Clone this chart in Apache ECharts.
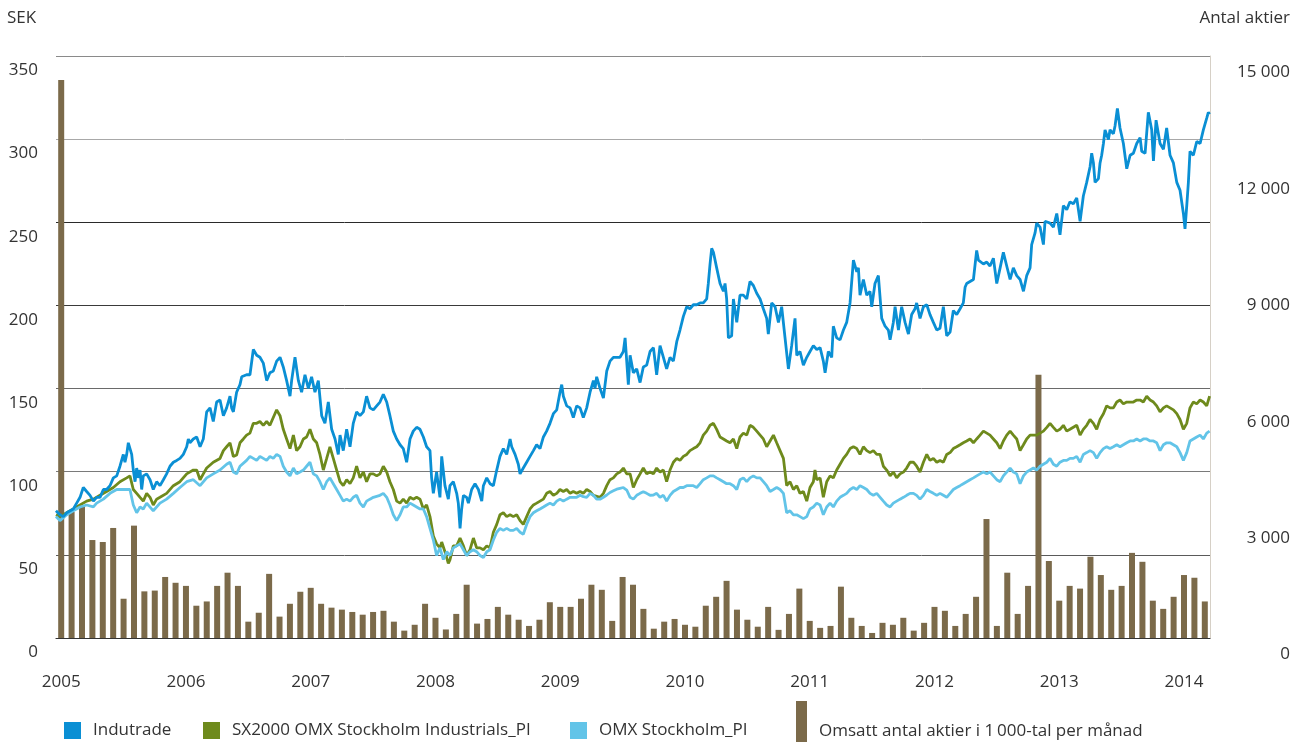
<!DOCTYPE html>
<html>
<head>
<meta charset="utf-8">
<script src="https://cdn.jsdelivr.net/npm/echarts@6/dist/echarts.min.js"></script>
<style>
html,body{margin:0;padding:0;background:#fff;}
#chart{width:1296px;height:742px;}
</style>
</head>
<body>
<div id="chart"></div>
<script>
// Monthly traded volume (thousands of shares), Jan 2005 .. Mar 2014
const volume = [
14380,3250,3400,2525,2475,2836,1012,2896,1202,1222,1573,1423,
1343,832,942,1343,1683,1343,421,651,1653,551,882,1192,
1293,882,782,731,671,601,671,701,421,190,341,882,
521,220,621,1373,371,491,802,601,471,311,471,922,
802,802,1012,1373,1242,441,1573,1373,751,240,421,491,
341,291,832,1062,1473,731,471,291,802,210,621,1273,
441,261,311,1323,521,311,130,391,341,521,190,391,
802,701,311,621,1062,3066,311,1683,621,1343,6783,1984,
962,1343,1273,2094,1623,1242,1343,2194,1964,962,751,1062,
1623,1553,942
];
const startYear = 2005;
const leftTicks = [0,50,100,150,200,250,300,350];
const rightTicks = [0,3000,6000,9000,12000,15000];

// Daily closing series: [decimal year, SEK]
const indutrade = [
[2004.958,76.5],[2004.990,74.1],[2005.017,73.0],[2005.044,75.3],[2005.097,77.6],[2005.124,81.1],[2005.151,84.6],[2005.177,90.5],[2005.191,90.5],[2005.204,88.1],[2005.231,85.8],[2005.258,82.3],[2005.284,84.6],[2005.311,84.6],[2005.338,89.3],[2005.364,89.3],[2005.391,91.6],[2005.418,96.3],[2005.445,97.5],[2005.471,103.3],[2005.498,110.4],[2005.511,105.7],[2005.525,110.4],[2005.538,117.4],[2005.551,118.5],[2005.565,110.4],[2005.578,101.0],[2005.592,94.0],[2005.605,102.2],[2005.618,96.3],[2005.632,101.0],[2005.645,89.3],[2005.658,97.5],[2005.685,98.7],[2005.712,95.2],[2005.738,89.3],[2005.765,94.0],[2005.792,91.6],[2005.819,95.2],[2005.845,98.7],[2005.872,103.3],[2005.899,105.7],[2005.926,106.8],[2005.952,108.0],[2005.979,110.4],[2006.006,115.0],[2006.019,119.7],[2006.032,117.4],[2006.059,119.7],[2006.086,120.9],[2006.113,115.0],[2006.139,119.7],[2006.166,136.0],[2006.193,138.4],[2006.219,130.2],[2006.246,141.9],[2006.273,143.1],[2006.300,133.7],[2006.326,138.4],[2006.353,145.4],[2006.366,138.4],[2006.380,136.0],[2006.406,147.8],[2006.433,152.4],[2006.447,157.1],[2006.460,156.0],[2006.486,158.3],[2006.513,158.3],
[2006.540,173.5],[2006.553,174.6],[2006.567,170.0],[2006.593,168.8],[2006.620,165.3],[2006.647,154.8],[2006.673,159.5],[2006.700,160.6],[2006.727,166.5],[2006.754,168.8],[2006.780,163.0],[2006.807,154.8],[2006.834,145.4],[2006.847,154.8],[2006.874,168.8],[2006.901,154.8],[2006.927,147.8],[2006.954,158.3],[2006.981,150.1],[2007.007,157.1],[2007.034,147.8],[2007.061,154.8],[2007.088,133.7],[2007.114,129.1],[2007.141,141.9],[2007.168,125.5],[2007.195,119.7],[2007.221,110.4],[2007.235,122.0],[2007.261,112.7],[2007.288,125.5],[2007.315,115.0],[2007.341,129.1],[2007.368,136.0],[2007.395,133.7],[2007.422,136.0],[2007.448,145.4],[2007.475,138.4],[2007.502,137.2],[2007.529,139.6],[2007.555,141.9],[2007.582,146.6],[2007.609,141.9],[2007.635,133.7],[2007.662,124.4],[2007.689,119.7],[2007.716,116.2],[2007.742,113.9],[2007.769,105.7],[2007.796,119.7],[2007.822,124.4],[2007.849,126.7],[2007.876,125.5],[2007.903,120.9],[2007.929,115.0],[2007.956,112.7],[2007.969,96.3],[2007.983,87.0],[2008.009,99.8],[2008.036,84.6],[2008.050,109.2],[2008.076,91.6],[2008.103,83.5],[2008.116,91.6],
[2008.143,94.0],[2008.170,87.0],[2008.183,81.1],[2008.197,65.9],[2008.210,77.6],[2008.224,85.8],[2008.250,84.6],[2008.264,81.1],[2008.290,89.3],[2008.317,92.8],[2008.344,89.3],[2008.371,82.3],[2008.384,91.6],[2008.411,96.3],[2008.437,92.8],[2008.464,91.6],[2008.491,101.0],[2008.517,109.2],[2008.544,113.9],[2008.571,110.4],[2008.598,119.7],[2008.611,115.0],[2008.638,110.4],[2008.664,104.5],[2008.678,98.7],[2008.704,102.2],[2008.731,105.7],[2008.758,109.2],[2008.785,112.7],[2008.811,116.2],[2008.838,113.9],[2008.865,120.9],[2008.891,124.4],[2008.918,129.1],[2008.945,134.9],[2008.972,137.2],[2008.998,147.8],[2009.012,152.4],[2009.025,145.4],[2009.052,139.6],[2009.079,138.4],[2009.105,132.6],[2009.132,139.6],[2009.159,138.4],[2009.185,132.6],[2009.212,138.4],[2009.239,147.8],[2009.266,154.8],[2009.279,150.1],[2009.292,157.1],[2009.319,150.1],[2009.346,144.3],[2009.373,160.6],[2009.399,166.5],[2009.426,168.8],[2009.453,168.8],[2009.479,168.8],[2009.506,172.3],[2009.520,180.5],[2009.533,179.3],[2009.546,152.4],[2009.560,170.0],[2009.586,159.5],[2009.613,161.8],[2009.640,153.6],[2009.666,163.0],[2009.693,164.1],[2009.720,172.3],
[2009.747,174.6],[2009.773,158.3],[2009.800,175.8],[2009.827,168.8],[2009.853,161.8],[2009.880,168.8],[2009.907,166.5],[2009.934,178.2],[2009.960,185.2],[2009.987,193.4],[2010.014,199.2],[2010.040,198.0],[2010.067,200.4],[2010.094,200.4],[2010.121,201.5],[2010.147,201.5],[2010.174,203.9],[2010.187,213.2],[2010.201,225.0],[2010.214,234.3],[2010.228,232.0],[2010.254,222.6],[2010.281,213.2],[2010.308,208.5],[2010.321,213.2],[2010.334,203.9],[2010.348,180.5],[2010.374,181.7],[2010.388,203.9],[2010.415,189.8],[2010.441,206.2],[2010.468,206.2],[2010.495,203.9],[2010.521,214.4],[2010.548,212.0],[2010.575,207.3],[2010.602,203.9],[2010.628,198.0],[2010.655,192.2],[2010.668,182.8],[2010.695,201.5],[2010.722,199.2],[2010.749,189.8],[2010.775,199.2],[2010.802,180.5],[2010.829,161.8],[2010.855,175.8],[2010.882,192.2],[2010.896,170.0],[2010.922,172.3],[2010.949,164.1],[2010.976,168.8],[2011.002,172.3],[2011.029,175.8],[2011.056,173.5],[2011.083,174.6],[2011.109,166.5],[2011.123,159.5],[2011.149,172.3],[2011.176,168.8],[2011.189,187.5],[2011.216,180.5],[2011.243,179.3],[2011.270,185.2],[2011.296,189.8],[2011.323,201.5],
[2011.350,227.3],[2011.363,226.1],[2011.377,220.2],[2011.390,222.6],[2011.403,206.2],[2011.430,215.6],[2011.457,206.2],[2011.483,208.5],[2011.497,199.2],[2011.523,213.2],[2011.550,217.9],[2011.564,219.1],[2011.577,192.2],[2011.604,187.5],[2011.630,185.2],[2011.644,179.3],[2011.670,189.8],[2011.684,199.2],[2011.711,185.2],[2011.737,199.2],[2011.764,189.8],[2011.791,182.8],[2011.817,194.5],[2011.844,198.0],[2011.857,201.5],[2011.884,192.2],[2011.911,199.2],[2011.938,200.4],[2011.964,194.5],[2011.991,189.8],[2012.018,185.2],[2012.044,186.3],[2012.071,199.2],[2012.098,181.7],[2012.125,184.0],[2012.151,196.9],[2012.178,194.5],[2012.205,198.0],[2012.231,201.5],[2012.245,210.9],[2012.258,213.2],[2012.285,214.4],[2012.312,215.6],[2012.338,233.1],[2012.352,227.3],[2012.365,227.3],[2012.392,224.9],[2012.419,226.1],[2012.445,223.7],[2012.472,228.4],[2012.499,213.2],[2012.526,222.6],[2012.552,231.9],[2012.579,223.7],[2012.606,215.6],[2012.632,222.6],[2012.659,217.9],[2012.686,215.6],[2012.713,208.5],[2012.739,217.9],[2012.766,222.6],[2012.779,236.6],[2012.806,243.6],[2012.819,249.5],[2012.846,247.1],[2012.873,236.6],[2012.886,250.6],[2012.900,251.8],[2012.926,249.5],
[2012.953,247.1],[2012.980,255.3],[2013.006,242.5],[2013.033,260.0],[2013.060,257.6],[2013.086,262.3],[2013.113,261.1],[2013.140,264.6],[2013.167,250.6],[2013.193,265.8],[2013.220,274.0],[2013.247,283.4],[2013.260,291.5],[2013.274,285.6],[2013.287,274.0],[2013.314,276.3],[2013.327,285.7],[2013.340,290.3],[2013.354,297.4],[2013.367,305.6],[2013.394,299.7],[2013.407,305.6],[2013.434,303.2],[2013.447,307.9],[2013.466,318.4],[2013.487,306.7],[2013.514,297.4],[2013.541,282.2],[2013.568,290.3],[2013.594,291.5],[2013.621,297.4],[2013.648,300.9],[2013.661,292.7],[2013.688,291.5],[2013.714,316.1],[2013.741,305.6],[2013.755,286.9],[2013.776,311.4],[2013.808,297.4],[2013.835,293.9],[2013.861,306.7],[2013.888,290.3],[2013.915,285.7],[2013.942,274.0],[2013.968,269.3],[2013.995,255.3],[2014.008,246.0],[2014.022,260.0],[2014.035,274.0],[2014.048,292.7],[2014.075,290.3],[2014.102,298.6],[2014.129,297.4],[2014.155,305.6],[2014.169,305.6],[2014.182,312.6],[2014.195,316.1],[2014.205,315.0]
];

const sx2000 = [
[2004.958,74.1],[2004.990,73.0],[2005.044,75.3],[2005.097,77.6],[2005.151,80.0],[2005.204,82.3],[2005.258,83.5],[2005.311,85.8],[2005.364,88.1],[2005.418,90.5],[2005.471,94.0],[2005.525,96.3],[2005.551,97.5],[2005.578,89.3],[2005.605,87.0],[2005.632,84.6],[2005.658,82.3],[2005.685,87.0],[2005.712,84.6],[2005.738,80.0],[2005.765,83.5],[2005.792,84.6],[2005.845,87.0],[2005.899,91.6],[2005.952,94.0],[2006.006,98.7],[2006.059,101.0],[2006.086,101.0],[2006.113,95.2],[2006.139,98.7],[2006.166,102.2],[2006.219,105.7],[2006.273,108.0],[2006.300,112.7],[2006.326,115.0],[2006.353,117.4],[2006.380,109.1],[2006.406,110.0],[2006.433,117.4],[2006.460,119.7],[2006.486,122.0],[2006.513,123.2],
[2006.540,129.1],[2006.567,129.1],[2006.593,130.2],[2006.620,127.9],[2006.647,130.2],[2006.673,127.9],[2006.700,132.6],[2006.727,137.2],[2006.740,138.4],[2006.754,133.7],[2006.780,125.5],[2006.807,119.7],[2006.834,113.9],[2006.861,122.0],[2006.887,112.7],[2006.914,115.0],[2006.941,119.7],[2006.967,120.9],[2006.994,125.5],[2007.021,119.7],[2007.048,117.4],[2007.074,110.4],[2007.101,101.0],[2007.128,108.0],[2007.154,115.0],[2007.181,108.0],[2007.208,101.0],[2007.235,94.0],[2007.261,91.6],[2007.288,95.2],[2007.315,92.8],[2007.341,96.3],[2007.368,103.3],[2007.395,96.3],[2007.422,99.8],[2007.448,94.0],[2007.475,98.7],[2007.502,98.7],[2007.529,97.5],[2007.555,98.7],[2007.582,103.3],[2007.609,99.8],[2007.635,94.0],[2007.662,89.3],[2007.689,82.3],[2007.716,81.1],[2007.742,83.5],[2007.769,81.1],[2007.796,84.6],[2007.822,83.5],[2007.849,84.6],[2007.876,83.5],[2007.903,77.6],[2007.929,80.0],[2007.956,73.0],[2007.983,61.3],[2008.009,56.6],[2008.036,54.2],[2008.050,57.7],[2008.076,51.9],[2008.103,44.9],[2008.116,47.0],
[2008.143,55.4],[2008.170,55.4],[2008.197,60.1],[2008.224,55.4],[2008.250,49.6],[2008.277,53.1],[2008.304,60.1],[2008.330,54.2],[2008.357,54.2],[2008.384,53.1],[2008.411,55.4],[2008.437,54.2],[2008.464,63.6],[2008.491,68.3],[2008.517,74.1],[2008.544,75.3],[2008.571,73.0],[2008.598,74.1],[2008.624,73.0],[2008.651,74.1],[2008.678,70.6],[2008.704,68.3],[2008.731,73.0],[2008.758,77.6],[2008.785,80.0],[2008.811,81.1],[2008.838,82.3],[2008.865,83.5],[2008.891,87.0],[2008.918,88.1],[2008.945,85.8],[2008.972,87.0],[2008.998,89.3],[2009.025,88.1],[2009.052,89.3],[2009.079,87.0],[2009.105,88.1],[2009.132,87.0],[2009.159,88.1],[2009.185,87.0],[2009.212,89.3],[2009.239,88.1],[2009.266,85.8],[2009.319,84.6],[2009.346,87.0],[2009.373,91.6],[2009.399,95.2],[2009.426,96.3],[2009.453,98.7],[2009.479,99.8],[2009.506,102.2],[2009.533,98.7],[2009.560,98.7],[2009.586,90.5],[2009.613,95.2],[2009.640,98.7],[2009.666,102.2],[2009.693,98.7],[2009.720,99.8],
[2009.747,98.7],[2009.773,102.2],[2009.800,99.8],[2009.827,101.0],[2009.853,94.0],[2009.880,101.0],[2009.907,105.7],[2009.934,108.0],[2009.960,106.8],[2009.987,109.2],[2010.014,110.4],[2010.040,112.7],[2010.067,113.9],[2010.094,115.0],[2010.121,117.4],[2010.147,122.0],[2010.174,124.4],[2010.201,127.9],[2010.228,129.1],[2010.254,125.5],[2010.281,120.9],[2010.308,119.7],[2010.334,118.5],[2010.361,117.4],[2010.388,119.7],[2010.415,113.9],[2010.441,120.9],[2010.468,123.2],[2010.495,122.0],[2010.521,127.9],[2010.548,126.7],[2010.575,124.4],[2010.602,122.0],[2010.628,119.7],[2010.655,115.0],[2010.682,118.5],[2010.709,122.0],[2010.735,117.4],[2010.762,112.7],[2010.789,108.0],[2010.815,91.6],[2010.842,94.0],[2010.869,89.3],[2010.896,91.6],[2010.922,87.0],[2010.949,88.1],[2010.976,82.3],[2011.002,90.5],[2011.029,94.0],[2011.042,101.0],[2011.056,95.2],[2011.083,96.3],[2011.109,84.6],[2011.136,94.0],[2011.163,97.5],[2011.189,96.3],[2011.216,101.0],[2011.243,104.5],[2011.270,108.0],[2011.296,110.4],[2011.323,113.9],
[2011.350,115.0],[2011.377,113.9],[2011.403,110.4],[2011.430,115.0],[2011.457,112.7],[2011.483,111.5],[2011.510,112.7],[2011.537,110.4],[2011.564,110.4],[2011.590,103.3],[2011.617,101.0],[2011.644,97.5],[2011.670,99.8],[2011.697,96.3],[2011.724,98.7],[2011.751,99.8],[2011.777,102.2],[2011.804,105.7],[2011.831,105.7],[2011.857,103.3],[2011.884,99.8],[2011.911,105.7],[2011.938,110.4],[2011.964,106.8],[2011.991,108.0],[2012.018,105.7],[2012.044,106.8],[2012.071,105.7],[2012.098,110.4],[2012.125,111.5],[2012.151,113.9],[2012.178,115.0],[2012.205,116.2],[2012.231,117.4],[2012.258,118.5],[2012.285,119.7],[2012.312,117.4],[2012.338,119.7],[2012.365,122.0],[2012.392,124.4],[2012.419,123.2],[2012.445,122.0],[2012.472,119.7],[2012.499,117.4],[2012.526,113.9],[2012.552,118.5],[2012.579,122.0],[2012.606,124.4],[2012.632,122.0],[2012.659,119.7],[2012.686,112.7],[2012.713,116.2],[2012.739,119.7],[2012.766,122.0],[2012.793,122.0],[2012.819,122.0],[2012.846,123.2],[2012.873,124.4],[2012.900,126.7],[2012.926,129.1],
[2012.953,126.7],[2012.980,124.4],[2013.006,125.5],[2013.033,127.9],[2013.060,124.4],[2013.086,125.5],[2013.113,126.7],[2013.140,127.9],[2013.167,122.0],[2013.193,125.5],[2013.220,127.9],[2013.247,131.4],[2013.274,129.1],[2013.300,125.5],[2013.327,131.4],[2013.354,134.9],[2013.380,139.6],[2013.407,138.4],[2013.434,138.4],[2013.461,141.9],[2013.487,143.1],[2013.514,140.8],[2013.541,141.9],[2013.568,141.9],[2013.594,141.9],[2013.621,143.1],[2013.648,143.1],[2013.674,141.9],[2013.701,145.4],[2013.728,143.1],[2013.755,141.9],[2013.781,139.6],[2013.808,136.0],[2013.835,138.4],[2013.861,139.6],[2013.888,138.4],[2013.915,137.2],[2013.942,134.9],[2013.968,131.4],[2013.995,125.5],[2014.008,124.4],[2014.022,129.1],[2014.048,138.4],[2014.075,141.9],[2014.102,140.8],[2014.129,143.1],[2014.155,141.9],[2014.182,139.6],[2014.205,145.4]
];

const omxspi = [
[2004.958,73.0],[2004.990,70.6],[2005.044,74.1],[2005.097,76.5],[2005.151,78.8],[2005.204,80.0],[2005.258,78.8],[2005.284,81.1],[2005.338,83.5],[2005.391,87.0],[2005.445,89.3],[2005.498,89.3],[2005.551,89.3],[2005.578,80.0],[2005.605,75.3],[2005.632,78.8],[2005.658,77.6],[2005.685,81.1],[2005.738,76.5],[2005.792,81.1],[2005.845,83.5],[2005.899,87.0],[2005.952,90.5],[2006.006,94.0],[2006.059,95.2],[2006.113,91.6],[2006.166,96.3],[2006.219,98.7],[2006.273,101.0],[2006.326,104.5],[2006.353,105.7],[2006.380,99.8],[2006.406,98.7],[2006.433,103.3],[2006.486,106.8],[2006.513,109.2],
[2006.540,108.0],[2006.567,106.8],[2006.593,109.2],[2006.620,108.0],[2006.647,106.8],[2006.673,109.2],[2006.700,108.0],[2006.727,110.4],[2006.754,109.2],[2006.780,103.3],[2006.807,99.8],[2006.834,97.5],[2006.861,102.2],[2006.887,98.7],[2006.914,99.8],[2006.941,101.0],[2006.967,103.3],[2006.994,105.7],[2007.021,98.7],[2007.048,97.5],[2007.074,94.0],[2007.101,89.3],[2007.128,94.0],[2007.154,96.3],[2007.181,92.8],[2007.208,89.3],[2007.235,85.8],[2007.261,82.3],[2007.288,83.5],[2007.315,82.3],[2007.341,84.6],[2007.368,85.8],[2007.395,81.1],[2007.422,78.8],[2007.448,82.3],[2007.475,83.5],[2007.502,84.6],[2007.555,85.8],[2007.582,87.0],[2007.609,84.6],[2007.635,80.0],[2007.662,74.1],[2007.689,70.6],[2007.716,74.1],[2007.742,78.8],[2007.769,78.8],[2007.796,81.1],[2007.822,80.0],[2007.849,78.8],[2007.876,77.6],[2007.903,77.6],[2007.929,73.0],[2007.956,65.9],[2007.983,58.9],[2008.009,49.6],[2008.036,54.2],[2008.063,47.2],[2008.090,51.9],[2008.116,49.6],
[2008.143,54.2],[2008.170,55.4],[2008.197,56.6],[2008.224,53.1],[2008.250,49.6],[2008.277,51.9],[2008.304,53.1],[2008.330,51.9],[2008.357,49.6],[2008.384,48.4],[2008.411,51.9],[2008.437,53.1],[2008.464,58.9],[2008.491,63.6],[2008.517,65.9],[2008.544,64.7],[2008.571,65.9],[2008.598,64.7],[2008.624,64.7],[2008.651,65.9],[2008.678,63.6],[2008.704,62.4],[2008.731,68.3],[2008.758,73.0],[2008.785,75.3],[2008.811,76.5],[2008.838,77.6],[2008.865,78.8],[2008.891,80.0],[2008.918,81.1],[2008.945,80.0],[2008.972,82.3],[2008.998,83.5],[2009.025,82.3],[2009.052,83.5],[2009.079,84.6],[2009.105,84.6],[2009.132,84.6],[2009.159,85.8],[2009.185,85.0],[2009.212,84.6],[2009.239,87.0],[2009.266,85.8],[2009.292,83.5],[2009.319,83.5],[2009.346,84.6],[2009.373,86.0],[2009.399,87.5],[2009.426,88.5],[2009.453,89.5],[2009.479,90.0],[2009.506,90.5],[2009.533,89.0],[2009.560,84.6],[2009.586,83.5],[2009.613,85.8],[2009.640,87.0],[2009.666,88.0],[2009.693,87.0],[2009.720,85.8],
[2009.747,86.0],[2009.773,87.0],[2009.800,84.6],[2009.827,85.8],[2009.853,82.3],[2009.880,85.8],[2009.907,88.1],[2009.934,89.3],[2009.960,90.5],[2009.987,90.5],[2010.014,91.6],[2010.040,91.6],[2010.067,91.6],[2010.094,90.5],[2010.121,92.8],[2010.147,95.2],[2010.174,96.3],[2010.201,97.5],[2010.228,97.5],[2010.254,96.3],[2010.281,95.2],[2010.308,94.0],[2010.334,92.8],[2010.361,92.8],[2010.388,91.6],[2010.415,89.3],[2010.441,95.2],[2010.468,96.3],[2010.495,94.0],[2010.521,96.3],[2010.548,97.5],[2010.575,96.3],[2010.602,96.3],[2010.628,94.0],[2010.655,91.6],[2010.682,88.1],[2010.709,89.3],[2010.735,90.5],[2010.762,89.3],[2010.789,87.0],[2010.815,75.3],[2010.842,76.5],[2010.869,74.1],[2010.896,74.1],[2010.922,73.0],[2010.949,71.8],[2010.976,73.0],[2011.002,77.6],[2011.029,78.8],[2011.056,81.1],[2011.083,80.0],[2011.109,74.1],[2011.136,78.8],[2011.163,81.1],[2011.189,78.8],[2011.216,82.3],[2011.243,84.6],[2011.270,85.8],[2011.296,87.0],[2011.323,89.3],
[2011.350,90.5],[2011.377,89.3],[2011.403,91.6],[2011.430,90.5],[2011.457,89.3],[2011.483,87.0],[2011.510,85.8],[2011.537,87.0],[2011.564,84.6],[2011.590,82.3],[2011.617,80.0],[2011.644,78.8],[2011.670,81.1],[2011.697,82.3],[2011.724,83.5],[2011.751,84.6],[2011.777,85.8],[2011.804,87.0],[2011.831,87.0],[2011.857,85.8],[2011.884,83.5],[2011.911,85.8],[2011.938,89.3],[2011.964,88.1],[2011.991,87.0],[2012.018,85.8],[2012.044,87.0],[2012.071,85.8],[2012.098,84.6],[2012.125,87.0],[2012.151,89.3],[2012.178,90.5],[2012.205,91.6],[2012.231,92.8],[2012.258,94.0],[2012.285,95.2],[2012.312,96.3],[2012.338,97.5],[2012.365,98.7],[2012.392,99.8],[2012.419,98.7],[2012.445,99.8],[2012.472,97.5],[2012.499,95.2],[2012.526,94.0],[2012.552,97.5],[2012.579,99.8],[2012.606,102.2],[2012.632,99.8],[2012.659,98.7],[2012.686,92.8],[2012.713,97.5],[2012.739,99.8],[2012.766,101.0],[2012.793,102.2],[2012.819,101.0],[2012.846,103.3],[2012.873,104.5],[2012.900,105.7],[2012.926,108.0],
[2012.953,104.5],[2012.980,103.3],[2013.006,105.7],[2013.033,106.8],[2013.060,106.8],[2013.086,108.0],[2013.113,108.0],[2013.140,109.2],[2013.167,105.7],[2013.193,110.4],[2013.220,111.5],[2013.247,112.7],[2013.274,111.5],[2013.300,108.0],[2013.327,111.5],[2013.354,113.9],[2013.380,115.0],[2013.407,113.9],[2013.434,115.0],[2013.461,116.2],[2013.487,115.0],[2013.514,116.2],[2013.541,117.4],[2013.568,118.5],[2013.594,118.5],[2013.621,119.7],[2013.648,118.5],[2013.674,119.7],[2013.701,119.7],[2013.728,118.5],[2013.755,118.5],[2013.781,117.4],[2013.808,112.7],[2013.835,116.2],[2013.861,117.4],[2013.888,117.4],[2013.915,116.2],[2013.942,115.0],[2013.968,111.5],[2013.995,106.8],[2014.008,105.7],[2014.022,111.5],[2014.048,118.5],[2014.075,119.7],[2014.102,120.9],[2014.129,122.0],[2014.155,119.7],[2014.182,123.2],[2014.205,124.4]
];

const names = ['Indutrade','SX2000 OMX Stockholm Industrials_PI','OMX Stockholm_PI','Omsatt antal aktier i 1\u2009000-tal per månad'];
const colors = {blue:'#0a8fd4', green:'#6e8a1c', cyan:'#62c4e8', bar:'#7b6a4a', text:'#333333'};

// month categories for the volume bars
const months = volume.map((_, i) => {
  const y = startYear + Math.floor(i / 12);
  const m = (i % 12) + 1;
  return y + '-' + (m < 10 ? '0' + m : m);
});

const FONT = '"Open Sans", "Noto Sans", sans-serif';
const chart = echarts.init(document.getElementById('chart'), null, {renderer: 'canvas'});

function legendItem(name, left, top, iw, ih) {
  return {
    data: [{name: name, icon: 'rect'}],
    left: left, top: top, orient: 'horizontal', padding: 0,
    itemWidth: iw, itemHeight: ih, itemGap: 0,
    selectedMode: false,
    textStyle: {fontFamily: FONT, fontSize: 17, color: colors.text, padding: [0,0,0,7]}
  };
}

chart.setOption({
  animation: false,
  textStyle: {fontFamily: FONT},
  title: [
    {text: 'SEK', left: 7, top: 10, padding: 0, textStyle: {fontFamily: FONT, fontSize: 17, fontWeight: 'normal', color: colors.text}},
    {text: 'Antal aktier', right: 6, top: 10, padding: 0, textStyle: {fontFamily: FONT, fontSize: 17, fontWeight: 'normal', color: colors.text}}
  ],
  legend: [
    legendItem(names[0], 64, 722, 17, 17),
    legendItem(names[1], 203, 722, 17, 17),
    legendItem(names[2], 570, 722, 17, 17),
    legendItem(names[3], 796, 701, 11, 60)
  ],
  grid: {left: 56, right: 86, top: 56, bottom: 104, containLabel: false},
  xAxis: [
    {
      type: 'category', data: months, boundaryGap: true,
      axisLine: {show: true, lineStyle: {color: '#333', width: 1.2}},
      axisTick: {show: false},
      splitLine: {show: false},
      axisLabel: {
        interval: (idx) => idx % 12 === 0,
        formatter: (v) => v.slice(0, 4),
        fontFamily: FONT, fontSize: 17, color: colors.text, margin: 36
      }
    },
    {type: 'value', show: false, min: 2004.9583, max: 2014.2083}
  ],
  yAxis: [
    {
      type: 'value', min: leftTicks[0], max: leftTicks[leftTicks.length - 1], interval: 50,
      axisLine: {show: false}, axisTick: {show: false},
      splitLine: {show: true, lineStyle: {color: ['#333','#5a5a5a','#7a7a7a','#6a6a6a','#3a3a3a','#2a2a2a','#a8a8a8','#8a8a8a'], width: 1}},
      axisLabel: {fontFamily: FONT, fontSize: 17, color: colors.text, margin: 18, verticalAlign: 'top', lineHeight: 29}
    },
    {
      type: 'value', position: 'right', min: rightTicks[0], max: rightTicks[rightTicks.length - 1], interval: 3000,
      axisLine: {show: true, lineStyle: {color: '#d6d0c6', width: 1}}, axisTick: {show: false},
      splitLine: {show: false},
      axisLabel: {
        fontFamily: FONT, fontSize: 17, color: colors.text, margin: 80, align: 'right',
        verticalAlign: 'top', lineHeight: 33,
        formatter: (v) => String(v).replace(/\B(?=(\d{3})+(?!\d))/g, ' ')
      }
    }
  ],
  series: [
    {name: names[3], type: 'bar', xAxisIndex: 0, yAxisIndex: 1, data: volume, barWidth: 6,
     itemStyle: {color: colors.bar}, z: 1},
    {name: names[1], type: 'line', xAxisIndex: 1, yAxisIndex: 0, data: sx2000, showSymbol: false,
     lineStyle: {color: colors.green, width: 2.8}, itemStyle: {color: colors.green}, z: 2},
    {name: names[2], type: 'line', xAxisIndex: 1, yAxisIndex: 0, data: omxspi, showSymbol: false,
     lineStyle: {color: colors.cyan, width: 2.8}, itemStyle: {color: colors.cyan}, z: 3},
    {name: names[0], type: 'line', xAxisIndex: 1, yAxisIndex: 0, data: indutrade, showSymbol: false,
     lineStyle: {color: colors.blue, width: 2.8}, itemStyle: {color: colors.blue}, z: 4}
  ]
});
</script>
</body>
</html>
